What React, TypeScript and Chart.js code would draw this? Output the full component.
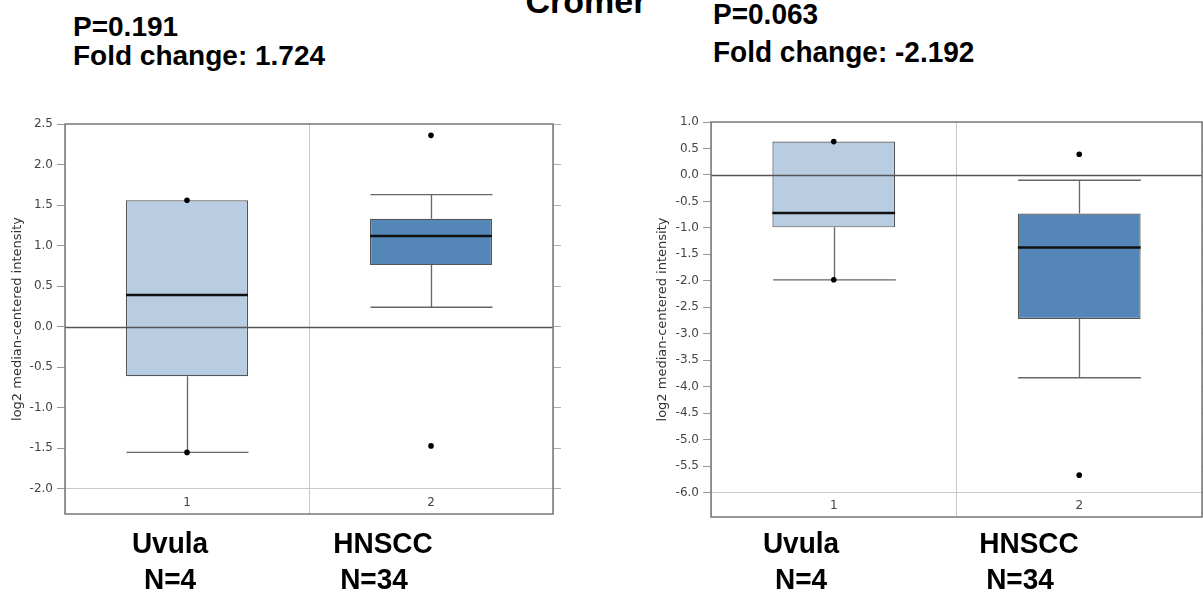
import React, { useEffect, useRef } from 'react';
import { Chart, registerables } from 'chart.js';

Chart.register(...registerables);

// ---------- data ----------
const categories = ['1', '2'];
const groupNames = ['Uvula', 'HNSCC'];
const groupCounts = ['N=4', 'N=34'];
const boxColors = ['rgb(185,205,226)', 'rgb(84,135,184)'];

// Left panel
const aLowerWhisker = [-1.55, 0.24];
const aQ1 = [-0.61, 0.76];
const aMedian = [0.39, 1.12];
const aQ3 = [1.56, 1.33];
const aUpperWhisker = [1.56, 1.63];
const aPointsCat1 = [1.56, -1.55];
const aPointsCat2 = [2.36, -1.47];
const aTicks = [2.5, 2.0, 1.5, 1.0, 0.5, 0.0, -0.5, -1.0, -1.5, -2.0];
const aMin = -2.31;
const aMax = 2.5;
const aStats = ['P=0.191', 'Fold change: 1.724'];

// Right panel
const bLowerWhisker = [-1.98, -3.83];
const bQ1 = [-0.99, -2.72];
const bMedian = [-0.72, -1.37];
const bQ3 = [0.63, -0.73];
const bUpperWhisker = [0.63, -0.1];
const bPointsCat1 = [0.63, -1.98];
const bPointsCat2 = [0.39, -5.67];
const bTicks = [1.0, 0.5, 0.0, -0.5, -1.0, -1.5, -2.0, -2.5, -3.0, -3.5, -4.0, -4.5, -5.0, -5.5, -6.0];
const bMin = -6.46;
const bMax = 1.0;
const bStats = ['P=0.063', 'Fold change: -2.192'];

const yTitle = 'log2 median-centered intensity';
const topTitle = 'Cromer';

type PanelProps = {
  left: number;
  top: number;
  width: number;
  height: number;
  lw: number[];
  q1: number[];
  med: number[];
  q3: number[];
  uw: number[];
  pts1: number[];
  pts2: number[];
  ticks: number[];
  min: number;
  max: number;
  yAxisWidth: number;
  titlePad: number;
  padding: { top: number; bottom: number; left: number; right: number };
};

function makePlugin(p: PanelProps) {
  return {
    id: 'boxExtras',
    beforeDatasetsDraw(chart: any) {
      const ctx = chart.ctx;
      const xs = chart.scales.x;
      const ys = chart.scales.y;
      const meta = chart.getDatasetMeta(0);
      ctx.save();
      ctx.strokeStyle = '#666';
      ctx.lineWidth = 1.3;
      categories.forEach((_, i) => {
        const x = Math.round(xs.getPixelForValue(i)) + 0.5;
        const w = meta.data[i].width;
        const segs: [number, number][] = [];
        if (p.uw[i] > p.q3[i]) segs.push([p.q3[i], p.uw[i]]);
        if (p.lw[i] < p.q1[i]) segs.push([p.q1[i], p.lw[i]]);
        segs.forEach(([a, b]) => {
          const ya = ys.getPixelForValue(a);
          const yb = ys.getPixelForValue(b);
          ctx.beginPath();
          ctx.moveTo(x, ya);
          ctx.lineTo(x, yb);
          ctx.moveTo(x - w / 2, yb);
          ctx.lineTo(x + w / 2, yb);
          ctx.stroke();
        });
      });
      ctx.restore();
    },
    afterDatasetsDraw(chart: any) {
      const ctx = chart.ctx;
      const xs = chart.scales.x;
      const ys = chart.scales.y;
      const area = chart.chartArea;
      const meta = chart.getDatasetMeta(0);
      ctx.save();
      // medians
      ctx.strokeStyle = '#111';
      ctx.lineWidth = 2.5;
      categories.forEach((_, i) => {
        const x = xs.getPixelForValue(i);
        const w = meta.data[i].width;
        const y = ys.getPixelForValue(p.med[i]);
        ctx.beginPath();
        ctx.moveTo(x - w / 2, y);
        ctx.lineTo(x + w / 2, y);
        ctx.stroke();
      });
      // zero line
      const y0 = Math.round(ys.getPixelForValue(0)) + 0.5;
      ctx.strokeStyle = '#555';
      ctx.lineWidth = 1.3;
      ctx.beginPath();
      ctx.moveTo(area.left, y0);
      ctx.lineTo(area.right, y0);
      ctx.stroke();
      // frame
      ctx.strokeStyle = '#777';
      ctx.lineWidth = 1.5;
      ctx.strokeRect(area.left, area.top, area.right - area.left, area.bottom - area.top);
      // category labels inside the plot
      const lowest = p.ticks[p.ticks.length - 1];
      const yl = (ys.getPixelForValue(lowest) + area.bottom) / 2;
      ctx.fillStyle = '#444';
      ctx.font = '12px "DejaVu Sans"';
      ctx.textAlign = 'center';
      ctx.textBaseline = 'middle';
      categories.forEach((c, i) => {
        ctx.fillText(c, xs.getPixelForValue(i), yl + 1);
      });
      ctx.restore();
    },
  };
}

function BoxPanel(p: PanelProps) {
  const ref = useRef<HTMLCanvasElement>(null);
  useEffect(() => {
    if (!ref.current) return;
    const lowest = p.ticks[p.ticks.length - 1];
    const setTicks = (s: any) => {
      s.ticks = p.ticks.map((v) => ({ value: v }));
    };
    const chart = new Chart(ref.current, {
      type: 'bar',
      data: {
        labels: categories,
        datasets: [
          {
            type: 'bar',
            data: categories.map((_, i) => [p.q1[i], p.q3[i]]) as any,
            backgroundColor: boxColors,
            borderColor: '#555',
            borderWidth: 1.2,
            borderSkipped: false,
            barPercentage: 0.5,
            categoryPercentage: 1,
            order: 2,
          } as any,
          {
            type: 'line',
            data: [
              ...p.pts1.map((v) => ({ x: categories[0], y: v })),
              ...p.pts2.map((v) => ({ x: categories[1], y: v })),
            ] as any,
            showLine: false,
            pointRadius: 2.8,
            pointBackgroundColor: '#000',
            pointBorderWidth: 0,
            order: 1,
          } as any,
        ],
      },
      options: {
        animation: false,
        responsive: false,
        layout: { padding: p.padding },
        plugins: { legend: { display: false }, tooltip: { enabled: false } },
        scales: {
          x: {
            offset: true,
            grid: { offset: true, color: '#c8c8c8', drawTicks: false },
            ticks: { display: false },
            border: { display: false },
            afterFit: (s: any) => {
              s.height = 0;
            },
          },
          y: {
            position: 'left',
            min: p.min,
            max: p.max,
            afterBuildTicks: setTicks,
            afterFit: (s: any) => {
              s.width = p.yAxisWidth;
            },
            ticks: {
              autoSkip: false,
              padding: 4,
              color: '#444',
              font: { family: '"DejaVu Sans", sans-serif', size: 12 },
              callback: (v: any) => Number(v).toFixed(1),
            },
            grid: {
              color: (c: any) => (c.tick && c.tick.value === lowest ? '#c8c8c8' : 'rgba(0,0,0,0)'),
              tickColor: '#999',
              tickLength: 8,
              drawTicks: true,
            },
            border: { display: false },
            title: {
              display: true,
              text: yTitle,
              color: '#333',
              font: { family: '"DejaVu Sans", sans-serif', size: 13 },
              padding: { top: p.titlePad, bottom: 0 },
            },
          },
          y2: {
            position: 'right',
            min: p.min,
            max: p.max,
            afterBuildTicks: setTicks,
            afterFit: (s: any) => {
              s.width = 8;
            },
            ticks: { display: false },
            grid: { drawOnChartArea: false, tickColor: '#b0b0b0', tickLength: 8 },
            border: { display: false },
          },
        },
      } as any,
      plugins: [makePlugin(p)],
    });
    return () => chart.destroy();
  }, []);
  return (
    <canvas
      ref={ref}
      width={p.width}
      height={p.height}
      style={{ position: 'absolute', left: p.left, top: p.top, width: p.width, height: p.height }}
    />
  );
}

const bold: React.CSSProperties = {
  position: 'absolute',
  fontFamily: '"Liberation Sans", Arial, sans-serif',
  fontWeight: 'bold',
  fontSize: 28,
  lineHeight: '28px',
  color: '#000',
  whiteSpace: 'nowrap',
  margin: 0,
};

function Label({ text, x, top, center, sy }: { text: string; x: number; top: number; center?: boolean; sy?: number }) {
  const parts: string[] = [];
  if (center) parts.push('translateX(-50%)');
  if (sy) parts.push(`scaleY(${sy})`);
  return (
    <div style={{ ...bold, left: x, top, transform: parts.length ? parts.join(' ') : undefined }}>{text}</div>
  );
}

export default function App() {
  useEffect(() => {
    document.body.style.margin = '0';
    document.body.style.overflow = 'hidden';
  }, []);
  return (
    <div style={{ position: 'relative', width: 1203, height: 594, overflow: 'hidden', background: '#fff' }}>
      <BoxPanel
        left={0}
        top={100}
        width={600}
        height={430}
        lw={aLowerWhisker}
        q1={aQ1}
        med={aMedian}
        q3={aQ3}
        uw={aUpperWhisker}
        pts1={aPointsCat1}
        pts2={aPointsCat2}
        ticks={aTicks}
        min={aMin}
        max={aMax}
        yAxisWidth={65}
        titlePad={10}
        padding={{ top: 24, bottom: 16, left: 0, right: 39 }}
      />
      <BoxPanel
        left={600}
        top={100}
        width={610}
        height={430}
        lw={bLowerWhisker}
        q1={bQ1}
        med={bMedian}
        q3={bQ3}
        uw={bUpperWhisker}
        pts1={bPointsCat1}
        pts2={bPointsCat2}
        ticks={bTicks}
        min={bMin}
        max={bMax}
        yAxisWidth={111}
        titlePad={55}
        padding={{ top: 22, bottom: 13, left: 0, right: 0 }}
      />
      <div style={{ ...bold, fontSize: 34, lineHeight: '34px', left: 586, top: -16, transform: 'translateX(-50%)' }}>
        {topTitle}
      </div>
      <Label text={aStats[0]} x={73} top={13} />
      <Label text={aStats[1]} x={73} top={42} />
      <Label text={bStats[0]} x={713} top={0} sy={1.07} />
      <Label text={bStats[1]} x={713} top={38} sy={1.07} />
      <Label text={groupNames[0]} x={170} top={530} center sy={1.04} />
      <Label text={groupCounts[0]} x={170} top={566} center sy={1.04} />
      <Label text={groupNames[1]} x={383} top={530} center sy={1.04} />
      <Label text={groupCounts[1]} x={374} top={566} center sy={1.04} />
      <Label text={groupNames[0]} x={801} top={530} center sy={1.04} />
      <Label text={groupCounts[0]} x={801} top={566} center sy={1.04} />
      <Label text={groupNames[1]} x={1029} top={530} center sy={1.04} />
      <Label text={groupCounts[1]} x={1020} top={566} center sy={1.04} />
    </div>
  );
}
